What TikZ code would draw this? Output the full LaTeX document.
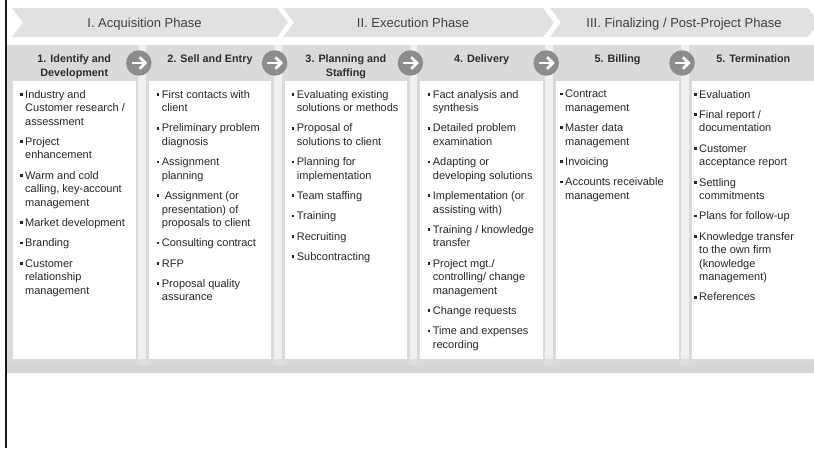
\documentclass[tikz,border=0pt]{standalone}
\usepackage{fontspec}
\setmainfont{Liberation Sans}
\usetikzlibrary{calc}
\definecolor{chevgray}{HTML}{E1E1E1}
\definecolor{colgray}{HTML}{DADADA}
\definecolor{gapgray}{HTML}{F0F0F0}
\definecolor{barlight}{HTML}{DEDEDE}
\definecolor{bardark}{HTML}{D5D5D5}
\definecolor{circgray}{HTML}{8C8C8C}
\definecolor{phasetext}{HTML}{404040}
\definecolor{headtext}{HTML}{2E2E2E}
\definecolor{bodytext}{HTML}{262626}
% square bullet hanging left of the item text
\newcommand\bsq{\leavevmode\llap{\raisebox{2.4pt}{\rule{2.8pt}{2.8pt}}\hspace{2.6pt}}}
% extra space between two items
\newcommand\nxt{\\[6.8pt]}
\begin{document}
\begin{tikzpicture}[x=1pt,y=-1pt,
  chevron/.style={fill=chevgray,draw=none},
  phaselabel/.style={anchor=base,inner sep=0pt,text=phasetext,font=\fontsize{13}{15}\selectfont},
  column/.style={fill=colgray,draw=none},
  gapstrip/.style={fill=gapgray,draw=none},
  itembox/.style={fill=white,draw=none},
  headlabel/.style={anchor=north,inner sep=0pt,align=center,text=headtext,font=\fontsize{10.8}{14}\bfseries\selectfont},
  bodylabel/.style={anchor=north west,inner sep=0pt,align=left,text=bodytext,font=\fontsize{11}{13.5}\selectfont},
  stepicon/.style={circle,fill=circgray,draw=none,minimum size=25.5pt,inner sep=0pt},
  iconarrow/.style={white,line width=2.8pt,line cap=butt,line join=miter}]

\useasboundingbox (0,0) rectangle (814,448);
\clip (0,0) rectangle (814,448);

% phase chevrons
\fill[chevron] (12,8) -- (277,8) -- (288,22.5) -- (277,37) -- (12,37) -- (23,22.5) -- cycle;
\fill[chevron] (283,8) -- (543,8) -- (554,22.5) -- (543,37) -- (283,37) -- (294,22.5) -- cycle;
\fill[chevron] (550,8) -- (808,8) -- (819,22.5) -- (808,37) -- (550,37) -- (561,22.5) -- cycle;
\node[phaselabel] (ph1) at (144.5,27) {I. Acquisition Phase};
\node[phaselabel] (ph2) at (413,27) {II. Execution Phase};
\node[phaselabel] (ph3) at (684,27) {III. Finalizing / Post-Project Phase};

% light strip behind the columns and the bottom bar
\fill[gapstrip] (7,45) rectangle (814,359);
\fill[barlight] (7,359) rectangle (814,365);
\fill[bardark] (7,365) rectangle (814,373);

% six columns: grey panel with header, white item box
\foreach \wl [count=\i] in {13,148.8,284.6,420.4,556.2,692}{
  \fill[column] ({\wl-3},45) rectangle ({\wl+125},365);
  \fill[itembox] (\wl,81) rectangle ({\wl+122.5},359);
}
\fill[column] (7,45) rectangle (12,365);

% column headers
\node[headlabel] (h1) at (74.25,54) {1. Identify and\\Development};
\node[headlabel] (h2) at (210,54) {2. Sell and Entry};
\node[headlabel] (h3) at (345.9,54) {3. Planning and\\Staffing};
\node[headlabel] (h4) at (481.7,54) {4. Delivery};
\node[headlabel] (h5) at (617.5,54) {5. Billing};
\node[headlabel] (h6) at (753.3,54) {5. Termination};

% step arrows between the columns
\foreach \k in {1,...,5}{
  \node[stepicon] (a\k) at ({138.8+(\k-1)*135.8},63) {};
  \draw[iconarrow] ($(a\k)+(-7.2,0)$) -- ($(a\k)+(5.5,0)$);
  \draw[iconarrow] ($(a\k)+(0.8,-5.8)$) -- ($(a\k)+(6.6,0)$) -- ($(a\k)+(0.8,5.8)$);
}

% item lists
\node[bodylabel] (b1) at (25,90) {%
\bsq Industry and\\Customer research /\\assessment\nxt
\bsq Project\\enhancement\nxt
\bsq Warm and cold\\calling, key-account\\management\nxt
\bsq Market development\nxt
\bsq Branding\nxt
\bsq Customer\\relationship\\management};

\node[bodylabel] (b2) at (161.7,90) {%
\bsq First contacts with\\client\nxt
\bsq Preliminary problem\\diagnosis\nxt
\bsq Assignment\\planning\nxt
\bsq\hspace{3pt}Assignment (or\\presentation) of\\proposals to client\nxt
\bsq Consulting contract\nxt
\bsq RFP\nxt
\bsq Proposal quality\\assurance};

\node[bodylabel] (b3) at (296.7,90) {%
\bsq Evaluating existing\\solutions or methods\nxt
\bsq Proposal of\\solutions to client\nxt
\bsq Planning for\\implementation\nxt
\bsq Team staffing\nxt
\bsq Training\nxt
\bsq Recruiting\nxt
\bsq Subcontracting};

\node[bodylabel] (b4) at (432.7,90) {%
\bsq Fact analysis and\\synthesis\nxt
\bsq Detailed problem\\examination\nxt
\bsq Adapting or\\developing solutions\nxt
\bsq Implementation (or\\assisting with)\nxt
\bsq Training / knowledge\\transfer\nxt
\bsq Project mgt./\\controlling/ change\\management\nxt
\bsq Change requests\nxt
\bsq Time and expenses\\recording};

\node[bodylabel] (b5) at (565,90) {%
\bsq Contract\\management\nxt
\bsq Master data\\management\nxt
\bsq Invoicing\nxt
\bsq Accounts receivable\\management};

\node[bodylabel] (b6) at (699,90) {%
\bsq Evaluation\nxt
\bsq Final report /\\documentation\nxt
\bsq Customer\\acceptance report\nxt
\bsq Settling\\commitments\nxt
\bsq Plans for follow-up\nxt
\bsq Knowledge transfer\\to the own firm\\(knowledge\\management)\nxt
\bsq References};

% left border line
\draw[line width=2.2pt,black!90] (6,0) -- (6,448);
\end{tikzpicture}
\end{document}
